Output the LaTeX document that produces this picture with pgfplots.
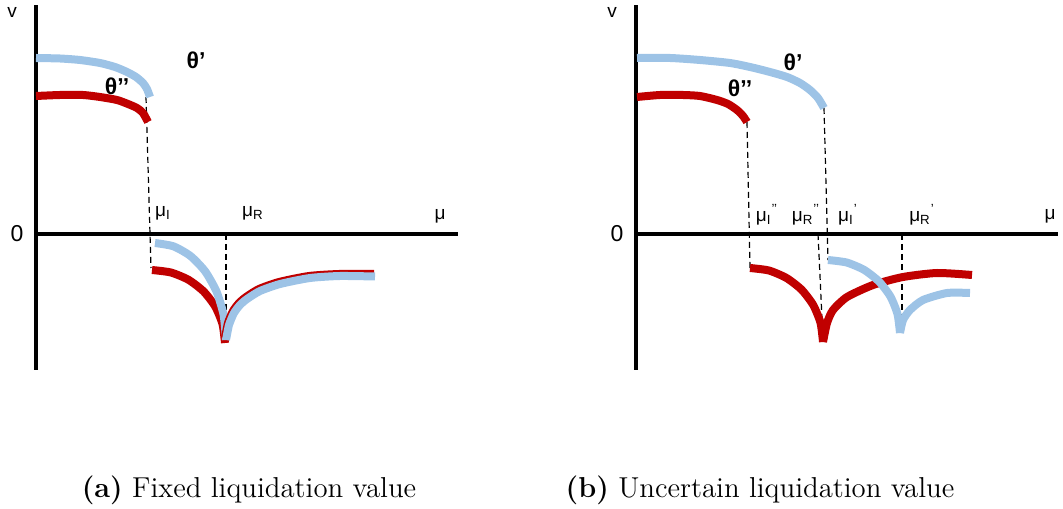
\documentclass[border=0pt]{standalone}
\usepackage{fontspec}
\usepackage{pgfplots}
\pgfplotsset{compat=1.18}
\newfontfamily\arial{Liberation Sans}
\definecolor{lblue}{HTML}{9DC3E6}
\definecolor{dred}{HTML}{C00000}

% one pixel of the reference = 0.5pt
\pgfplotsset{
  panel/.style={
    scale only axis, width=211pt, height=182.5pt,
    xmin=0, xmax=422, ymin=-136, ymax=229,
    axis lines=middle,
    axis line style={-, line width=2pt, black},
    ticks=none, clip=false,
  },
  curve/.style={smooth, tension=0.4, line width=4pt, no marks},
  guide/.style={black, line width=0.6pt, dash pattern=on 3pt off 2pt, no marks},
}
\tikzset{
  lab/.style={font=\arial\fontsize{9.5}{10}\selectfont},
  zero/.style={font=\arial\fontsize{11.5}{12}\selectfont},
  thl/.style={font=\arial\bfseries\fontsize{11.5}{12}\selectfont},
  captxt/.style={font=\fontsize{14.4}{16}\selectfont},
}

\begin{document}
\begin{tikzpicture}
\path[use as bounding box] (0,0) rectangle (531.5pt,254pt);

% (a) fixed liquidation value
\begin{axis}[panel, at={(18pt,69pt)}, anchor=south west]
\addplot[guide] coordinates {(110,137)(115,-34)};
\addplot[guide] coordinates {(190,0)(190,-106)};
\addplot[curve, lblue] coordinates {(0,176)(24,175.5)(44,174)(64,171)(79,167)(91,162)(100,157)(107,151)(111,145)(114,137)};
\addplot[curve, dred] coordinates {(0,138)(24,139)(47,139)(64,137)(81,134)(92,130)(101,126)(107,121)(112,112)};
\addplot[curve, dred] coordinates {(116,-36)(134.9,-38.5)(152.5,-45.8)(167.6,-57.4)(179.2,-72.5)(186.5,-90.1)(189,-109)};
\addplot[curve, lblue] coordinates {(119,-9)(137.4,-12.3)(154.5,-22)(169.2,-37.4)(180.5,-57.5)(187.6,-80.9)(190,-106)};
\addplot[curve, dred] coordinates {(189,-104)(192,-89)(197,-77)(203,-69)(210,-63)(223,-55)(243,-48)(273,-42)(303,-40)(338,-40)};
\addplot[curve, lblue] coordinates {(190,-106)(193,-91)(198,-79)(204,-71)(211,-65)(224,-57)(244,-50)(274,-44)(304,-42)(339,-42.5)};
\node[lab] at (-24,222) {v};
\node[zero] at (-19,0) {0};
\node[lab] at (404,18) {μ};
\node[lab] at (127,21) {μ\textsubscript{I}};
\node[lab] at (217,21) {μ\textsubscript{R}};
\node[thl] at (160,174) {θ’};
\node[thl] at (81,148) {θ’’};
\end{axis}

% (b) uncertain liquidation value
\begin{axis}[panel, at={(318pt,69pt)}, anchor=south west]
\addplot[guide] coordinates {(111,112)(114,-34)};
\addplot[guide] coordinates {(188,126)(192,-26)};
\addplot[guide] coordinates {(182,0)(187,-106)};
\addplot[guide] coordinates {(266,0)(266,-93)};
\addplot[curve, lblue] coordinates {(1,176)(34,176)(64,174)(94,171)(114,167)(134,162)(151,157)(164,151)(174,144)(182,136)(188,126)};
\addplot[curve, dred] coordinates {(1,137)(24,139)(47,139)(64,138)(81,134)(92,130)(101,124)(107,118)(111,112)};
\addplot[curve, dred] coordinates {(114,-34)(132.9,-36.5)(150.5,-44)(165.6,-55.7)(177.2,-71)(184.5,-88.8)(187,-108)};
\addplot[curve, dred] coordinates {(187,-108)(191,-89)(197,-76)(211,-63)(237,-51)(267,-43)(301,-39)(336,-41)};
\addplot[curve, lblue] coordinates {(192,-26)(210.6,-28.5)(228,-35.8)(242.9,-47.4)(254.4,-62.5)(261.5,-80.1)(264,-99)};
\addplot[curve, lblue] coordinates {(264,-99)(267,-86)(274,-76)(287,-66)(311,-59)(334,-59)};
\node[lab] at (-24,222) {v};
\node[zero] at (-19,0) {0};
\node[lab] at (414,18) {μ};
\node[lab] at (131,19) {μ\textsubscript{I}\textsuperscript{’’}};
\node[lab] at (170,19) {μ\textsubscript{R}\textsuperscript{’’}};
\node[lab] at (212,19) {μ\textsubscript{I}\textsuperscript{’}};
\node[lab] at (286,19) {μ\textsubscript{R}\textsuperscript{’}};
\node[thl] at (157,172) {θ’};
\node[thl] at (104,146) {θ’’};
\end{axis}

\node[captxt] at (124.5pt,9pt) {\textbf{(a)} Fixed liquidation value};
\node[captxt] at (380pt,9pt) {\textbf{(b)} Uncertain liquidation value};
\end{tikzpicture}
\end{document}
